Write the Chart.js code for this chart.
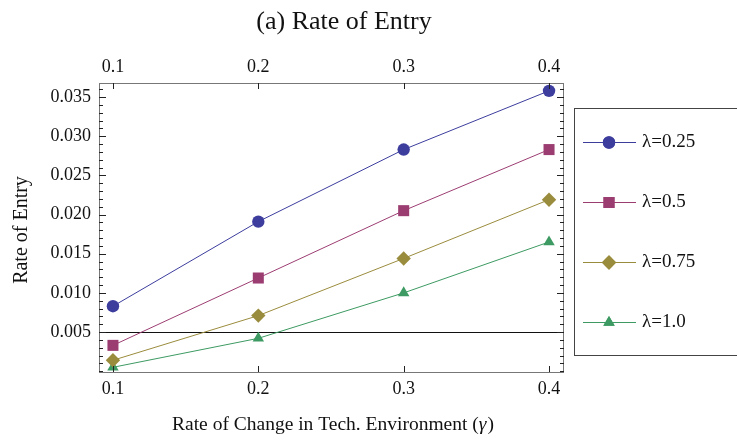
<!DOCTYPE html>
<html>
<head>
<meta charset="utf-8">
<script src="https://cdn.jsdelivr.net/npm/chart.js@4.4.0/dist/chart.umd.min.js"></script>
<style>
  html, body { margin: 0; padding: 0; background: #fff; }
</style>
</head>
<body>
<canvas id="entryChart" width="737" height="442"></canvas>
<script>
// values
const gammaValues = [0.1, 0.2, 0.3, 0.4];
const seriesLabels = ['λ=0.25', 'λ=0.5', 'λ=0.75', 'λ=1.0'];
const entryLambda025 = [0.0083, 0.0191, 0.0283, 0.0358];
const entryLambda05 = [0.0033, 0.0119, 0.0205, 0.0283];
const entryLambda075 = [0.0014, 0.0071, 0.0144, 0.0219];
const entryLambda10 = [0.0005, 0.0042, 0.0100, 0.0165];
const xTickValues = [0.1, 0.2, 0.3, 0.4];
const yTickValues = [0.005, 0.010, 0.015, 0.020, 0.025, 0.030, 0.035];
const yMinorStep = 0.001;
const thresholdLevel = 0.005;

const serif = "'Liberation Serif', 'Times New Roman', serif";
const colors = ['#3d3d9e', '#9c3d72', '#9a8c3d', '#3d9a62'];
const markers = [
    { style: 'circle', radius: 6.2 },
    { style: 'rect', radius: 7.8 },
    { style: 'rectRot', radius: 7.2 },
    { style: 'triangle', radius: 6.6 }
];
const allSeries = [entryLambda025, entryLambda05, entryLambda075, entryLambda10];

const datasets = allSeries.map(function (vals, i) {
    return {
        label: seriesLabels[i],
        data: gammaValues.map((g, j) => ({ x: g, y: vals[j] })),
        borderColor: colors[i],
        backgroundColor: colors[i],
        borderWidth: 1,
        pointStyle: markers[i].style,
        pointRadius: markers[i].radius,
        pointBorderWidth: 0,
        pointHoverRadius: markers[i].radius,
        clip: false
    };
});

function fixTicks(values) {
    return function (scale) {
        scale.ticks = values.map(v => ({ value: v }));
    };
}

// frame, inward ticks, threshold line, titles and legend
const frameTicks = {
    id: 'frameTicks',
    beforeDatasetsDraw(chart) {
        const ctx = chart.ctx, a = chart.chartArea, y = chart.scales.y;
        const py = Math.round(y.getPixelForValue(thresholdLevel)) + 0.5;
        ctx.save();
        ctx.strokeStyle = '#111';
        ctx.lineWidth = 1;
        ctx.beginPath();
        ctx.moveTo(a.left, py);
        ctx.lineTo(a.right, py);
        ctx.stroke();
        ctx.restore();
    },
    afterDatasetsDraw(chart) {
        const ctx = chart.ctx, a = chart.chartArea;
        const x = chart.scales.x, y = chart.scales.y;
        ctx.save();
        ctx.lineWidth = 1;
        ctx.strokeStyle = '#777';
        ctx.strokeRect(Math.round(a.left) + 0.5, Math.round(a.top) + 0.5,
            Math.round(a.right - a.left) - 1, Math.round(a.bottom - a.top));
        ctx.strokeStyle = '#222';
        ctx.beginPath();
        xTickValues.forEach(function (v) {
            const px = Math.round(x.getPixelForValue(v)) + 0.5;
            ctx.moveTo(px, a.bottom); ctx.lineTo(px, a.bottom - 6);
            ctx.moveTo(px, a.top); ctx.lineTo(px, a.top + 6);
        });
        for (let v = 0; v <= y.max + 1e-9; v += yMinorStep) {
            if (v < y.min) continue;
            const major = yTickValues.some(t => Math.abs(t - v) < 1e-7);
            const len = major ? 7 : 4;
            const py = Math.round(y.getPixelForValue(v)) + 0.5;
            ctx.moveTo(a.left, py); ctx.lineTo(a.left + len, py);
            ctx.moveTo(a.right, py); ctx.lineTo(a.right - len, py);
        }
        ctx.stroke();
        ctx.restore();
    },
    afterDraw(chart) {
        const ctx = chart.ctx, a = chart.chartArea;
        ctx.save();
        ctx.fillStyle = '#111';
        ctx.textBaseline = 'middle';
        ctx.textAlign = 'center';
        ctx.font = '26px ' + serif;
        ctx.fillText('(a) Rate of Entry', 344, 22);

        // x axis title, with an italic gamma
        const head = 'Rate of Change in Tech. Environment (';
        ctx.font = '19.5px ' + serif;
        const wHead = ctx.measureText(head).width;
        const wTail = ctx.measureText(')').width;
        ctx.font = 'italic 19.5px ' + serif;
        const wG = ctx.measureText('\u03b3').width;
        let tx = (a.left + a.right) / 2 + 1 - (wHead + wG + wTail) / 2;
        ctx.textAlign = 'left';
        ctx.font = '19.5px ' + serif;
        ctx.fillText(head, tx, 425);
        ctx.font = 'italic 19.5px ' + serif;
        ctx.fillText('\u03b3', tx + wHead, 425);
        ctx.font = '19.5px ' + serif;
        ctx.fillText(')', tx + wHead + wG + 1, 425);

        ctx.save();
        ctx.textAlign = 'center';
        ctx.translate(22, 230);
        ctx.rotate(-Math.PI / 2);
        ctx.font = '20px ' + serif;
        ctx.fillText('Rate of Entry', 0, 0);
        ctx.restore();

        // legend box
        ctx.strokeStyle = '#444';
        ctx.lineWidth = 1;
        ctx.strokeRect(574.5, 108.5, 200, 247);
        ctx.font = '19px ' + serif;
        ctx.textAlign = 'left';
        chart.data.datasets.forEach(function (ds, i) {
            const ly = 142.5 + i * 60;
            ctx.strokeStyle = ds.borderColor;
            ctx.beginPath();
            ctx.moveTo(583, ly); ctx.lineTo(636, ly);
            ctx.stroke();
            ctx.fillStyle = ds.backgroundColor;
            Chart.helpers.drawPoint(ctx, {
                pointStyle: ds.pointStyle, radius: ds.pointRadius,
                rotation: 0, borderWidth: 0
            }, 609, ly);
            ctx.fill();
            ctx.fillStyle = '#111';
            ctx.fillText(ds.label, 642, ly);
        });
        ctx.restore();
    }
};

new Chart(document.getElementById('entryChart'), {
    type: 'line',
    data: { datasets: datasets },
    options: {
        responsive: false,
        animation: false,
        devicePixelRatio: 1,
        layout: { padding: { top: 0, right: 173, left: 0, bottom: 0 } },
        plugins: { legend: { display: false }, tooltip: { enabled: false } },
        scales: {
            x: {
                type: 'linear', position: 'bottom',
                min: 0.0904, max: 0.4103,
                afterBuildTicks: fixTicks(xTickValues),
                afterFit(s) { s.height = 70; },
                grid: { display: false, drawTicks: false },
                border: { display: false },
                ticks: {
                    padding: 6, color: '#111',
                    font: { family: serif, size: 18 },
                    callback: v => v.toFixed(1)
                }
            },
            xTop: {
                type: 'linear', position: 'top',
                min: 0.0904, max: 0.4103,
                afterBuildTicks: fixTicks(xTickValues),
                afterFit(s) { s.height = 83; },
                grid: { display: false, drawTicks: false },
                border: { display: false },
                ticks: {
                    padding: 5, color: '#111',
                    font: { family: serif, size: 18 },
                    callback: v => v.toFixed(1)
                }
            },
            y: {
                type: 'linear', position: 'left',
                min: -0.0001, max: 0.0368,
                afterBuildTicks: fixTicks(yTickValues),
                afterFit(s) { s.width = 99; },
                grid: { display: false, drawTicks: false },
                border: { display: false },
                ticks: {
                    padding: 8, color: '#111',
                    font: { family: serif, size: 18 },
                    callback: v => v.toFixed(3)
                }
            }
        }
    },
    plugins: [frameTicks]
});
</script>
</body>
</html>
